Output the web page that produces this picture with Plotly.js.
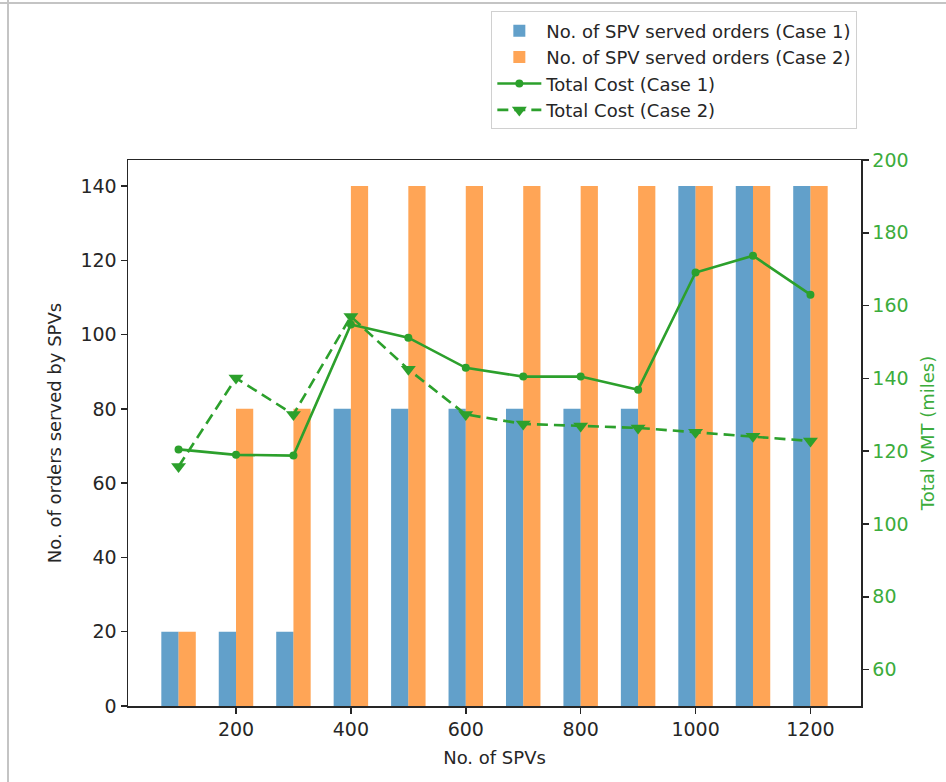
<!DOCTYPE html>
<html>
<head>
<meta charset="utf-8">
<script src="https://cdn.plot.ly/plotly-3.0.1.min.js"></script>
<style>
  html, body { margin: 0; padding: 0; background: #ffffff; }
  #chart { width: 946px; height: 782px; position: relative; }
  .edge-left { position: absolute; left: 7px; top: 0; width: 2px; height: 782px; background: #c4c4c4; pointer-events: none; }
  .edge-top { position: absolute; left: 0; top: 2px; width: 946px; height: 2px; background: #c4c4c4; pointer-events: none; }
</style>
</head>
<body>
<div id="chart"></div>
<div class="edge-left"></div>
<div class="edge-top"></div>
<script>
const spvCounts = [100, 200, 300, 400, 500, 600, 700, 800, 900, 1000, 1100, 1200];
const ordersCase1 = [20, 20, 20, 80, 80, 80, 80, 80, 80, 140, 140, 140];
const ordersCase2 = [20, 80, 80, 140, 140, 140, 140, 140, 140, 140, 140, 140];
const vmtCase1 = [120.5, 119.0, 118.8, 154.8, 151.2, 142.9, 140.5, 140.5, 136.9, 169.1, 173.7, 163.0];
const vmtCase2 = [115.8, 140.1, 130.1, 157.0, 142.5, 130.1, 127.5, 126.9, 126.4, 125.2, 124.1, 122.8];
const xTicks = [200, 400, 600, 800, 1000, 1200];

const green = '#2ca02c';
const font = {family: 'DejaVu Sans, sans-serif', size: 18, color: '#262626'};

const traces = [
  {type: 'bar', x: spvCounts, y: ordersCase1, width: 30, offset: -30,
   name: 'No. of SPV served orders (Case 1)', marker: {color: 'rgba(31,119,180,0.7)', line: {width: 0}}},
  {type: 'bar', x: spvCounts, y: ordersCase2, width: 30, offset: 0,
   name: 'No. of SPV served orders (Case 2)', marker: {color: 'rgba(255,127,14,0.7)', line: {width: 0}}},
  {type: 'scatter', mode: 'lines+markers', x: spvCounts, y: vmtCase1, yaxis: 'y2',
   name: 'Total Cost (Case 1)', line: {color: green, width: 2.6},
   marker: {symbol: 'circle', size: 8, color: green}},
  {type: 'scatter', mode: 'lines+markers', x: spvCounts, y: vmtCase2, yaxis: 'y2',
   name: 'Total Cost (Case 2)', line: {color: green, width: 2.6, dash: '11px,6px'},
   marker: {symbol: 'triangle-down', size: 13, color: green}}
];

const layout = {
  width: 946, height: 782,
  margin: {l: 128, r: 85, t: 160, b: 76, pad: 0},
  paper_bgcolor: '#ffffff', plot_bgcolor: '#ffffff',
  font: font,
  barmode: 'overlay',
  showlegend: true,
  legend: {x: 0.995, xanchor: 'right', y: 1.272, yanchor: 'top',
           bgcolor: '#ffffff', bordercolor: '#d0d0d0', borderwidth: 1,
           font: {family: font.family, size: 18, color: '#262626'},
           tracegroupgap: 0, itemwidth: 44},
  xaxis: {range: [12, 1288], tickvals: xTicks, ticktext: xTicks.map(String),
          showgrid: false, zeroline: false, showline: true, mirror: true,
          linecolor: '#262626', linewidth: 1.5, ticks: 'outside', ticklen: 6,
          tickwidth: 1.5, tickcolor: '#262626', tickfont: {size: 19},
          title: {text: 'No. of SPVs', font: {size: 18, color: '#262626'}, standoff: 12}},
  yaxis: {range: [0, 147], dtick: 20, tick0: 0, showgrid: false, zeroline: false,
          showline: true, linecolor: '#262626', linewidth: 1.5, ticks: 'outside',
          ticklen: 6, tickwidth: 1.5, tickcolor: '#262626', tickfont: {size: 19},
          title: {text: 'No. of orders served by SPVs', font: {size: 18, color: '#262626'}, standoff: 14}},
  yaxis2: {range: [50, 200], dtick: 20, tick0: 60, overlaying: 'y', side: 'right',
           showgrid: false, zeroline: false, showline: true, linecolor: '#262626',
           linewidth: 1.5, ticks: 'outside', ticklen: 6, tickwidth: 1.5, tickcolor: '#262626',
           tickfont: {color: '#3cac3c', size: 19},
           title: {text: 'Total VMT (miles)', font: {size: 18, color: '#3cac3c'}, standoff: 14}}
};

Plotly.newPlot('chart', traces, layout, {displayModeBar: false, staticPlot: true});
</script>
</body>
</html>
